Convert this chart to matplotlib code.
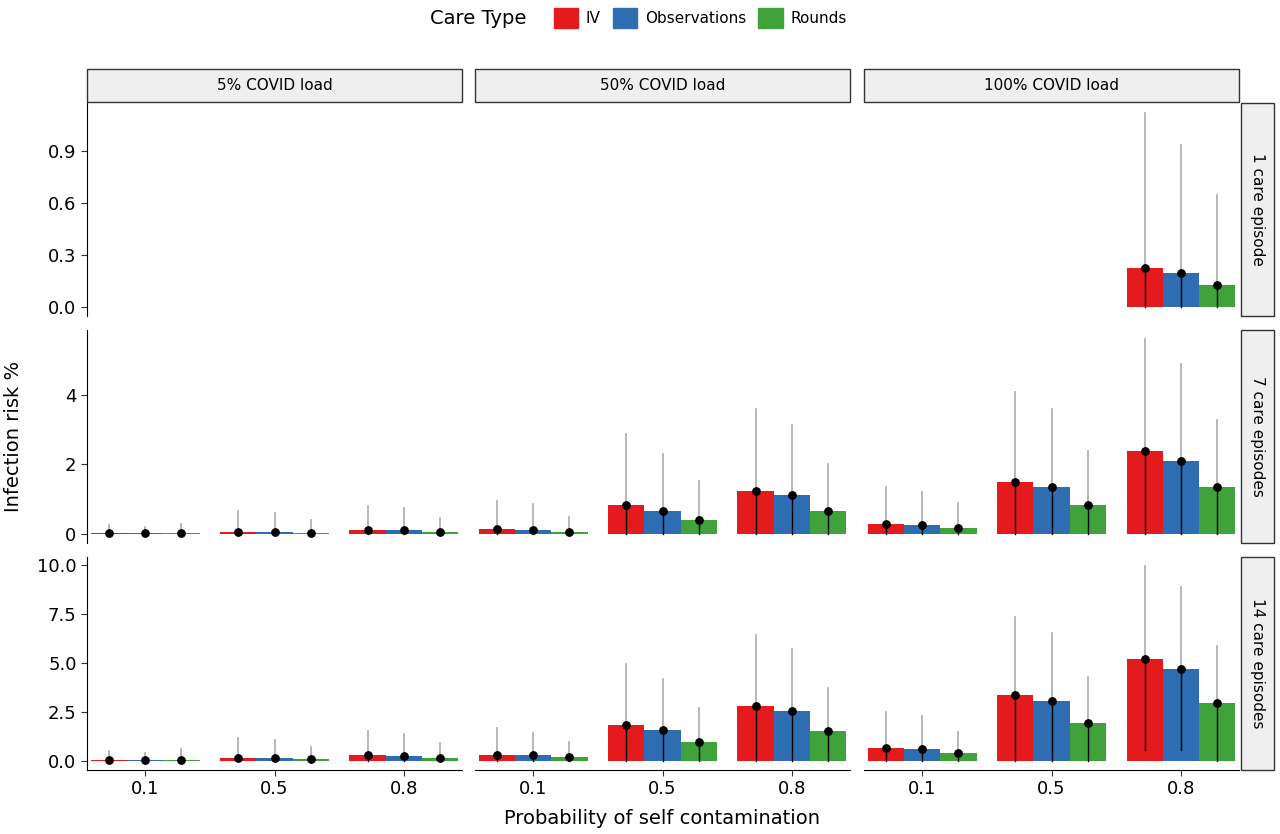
import matplotlib
matplotlib.use('Agg')
import numpy as np
import matplotlib.pyplot as plt
from matplotlib.patches import Patch, Rectangle

loads = ['5% COVID load', '50% COVID load', '100% COVID load']
episodes = ['1 care episode', '7 care episodes', '14 care episodes']
probs = ['0.1', '0.5', '0.8']
care_types = ['IV', 'Observations', 'Rounds']
colors = ['#E41A1C', '#2F6DB3', '#3FA23A']
nan = np.nan

# mean[episode][load][prob] -> (IV, Obs, Rounds)
mean = [
    [[[nan] * 3] * 3, [[nan] * 3] * 3,
     [[nan] * 3, [nan] * 3, [0.23, 0.20, 0.13]]],
    [[[0.02, 0.02, 0.02], [0.07, 0.06, 0.04], [0.12, 0.11, 0.06]],
     [[0.13, 0.12, 0.07], [0.82, 0.66, 0.41], [1.25, 1.12, 0.65]],
     [[0.28, 0.25, 0.17], [1.50, 1.35, 0.82], [2.38, 2.10, 1.35]]],
    [[[0.04, 0.04, 0.03], [0.15, 0.14, 0.10], [0.28, 0.25, 0.17]],
     [[0.30, 0.28, 0.18], [1.85, 1.58, 0.98], [2.80, 2.55, 1.55]],
     [[0.68, 0.62, 0.40], [3.38, 3.05, 1.92], [5.20, 4.70, 2.95]]],
]
upper = [
    [[[nan] * 3] * 3, [[nan] * 3] * 3,
     [[nan] * 3, [nan] * 3, [1.12, 0.94, 0.65]]],
    [[[0.25, 0.20, 0.30], [0.65, 0.60, 0.40], [0.80, 0.75, 0.45]],
     [[0.95, 0.85, 0.50], [2.88, 2.30, 1.52], [3.60, 3.15, 2.00]],
     [[1.35, 1.22, 0.88], [4.10, 3.60, 2.38], [5.60, 4.90, 3.28]]],
    [[[0.50, 0.40, 0.60], [1.15, 1.05, 0.70], [1.55, 1.40, 0.90]],
     [[1.70, 1.45, 0.95], [4.95, 4.20, 2.70], [6.40, 5.70, 3.70]],
     [[2.50, 2.30, 1.50], [7.35, 6.55, 4.30], [9.95, 8.85, 5.85]]],
]
lower_14_100_08 = [0.55, 0.55, 0.0]

ylims = [(-0.05, 1.18), (-0.26, 5.87), (-0.46, 10.4)]
yticks = [[0.0, 0.3, 0.6, 0.9], [0, 2, 4], [0.0, 2.5, 5.0, 7.5, 10.0]]
ytlabels = [['0.0', '0.3', '0.6', '0.9'], ['0', '2', '4'],
            ['0.0', '2.5', '5.0', '7.5', '10.0']]

W, H = 1280, 834
fig = plt.figure(figsize=(12.8, 8.34), dpi=100)
colx = [87, 475, 864]
pw = 375
rowy = [103, 330, 557]
ph = 213
bw = 0.28

for r in range(3):
    for c in range(3):
        ax = fig.add_axes([colx[c] / W, 1 - (rowy[r] + ph) / H, pw / W, ph / H])
        for p in range(3):
            for k in range(3):
                m = mean[r][c][p][k]
                if np.isnan(m):
                    continue
                x = p + 1 + (k - 1) * bw
                ax.bar(x, m, width=bw, color=colors[k], zorder=1)
                lo = lower_14_100_08[k] if (r == 2 and c == 2 and p == 2) else 0
                ax.plot([x, x], [m, upper[r][c][p][k]], color='#aaaaaa', lw=1.2, zorder=2)
                ax.plot([x, x], [lo, m], color='black', lw=1.0, zorder=2)
                ax.scatter([x], [m], color='black', s=28, zorder=3)
        ax.set_xlim(0.55, 3.45)
        ax.set_ylim(*ylims[r])
        for s in ['top', 'right']:
            ax.spines[s].set_visible(False)
        ax.spines['left'].set_visible(c == 0)
        ax.spines['bottom'].set_visible(r == 2)
        if c == 0:
            ax.set_yticks(yticks[r])
            ax.set_yticklabels(ytlabels[r], fontsize=13)
        else:
            ax.set_yticks([])
        if r == 2:
            ax.set_xticks([1, 2, 3])
            ax.set_xticklabels(probs, fontsize=13)
        else:
            ax.set_xticks([])
        ax.tick_params(color='#333333', length=4)

for c in range(3):
    fig.patches.append(Rectangle((colx[c] / W, 1 - 102 / H), pw / W, 33 / H,
                                 transform=fig.transFigure, facecolor='#efefef',
                                 edgecolor='#333333', lw=1))
    fig.text((colx[c] + pw / 2) / W, 1 - 86 / H, loads[c], ha='center', va='center', fontsize=11)
for r in range(3):
    fig.patches.append(Rectangle((1241 / W, 1 - (rowy[r] + ph) / H), 33 / W, ph / H,
                                 transform=fig.transFigure, facecolor='#efefef',
                                 edgecolor='#333333', lw=1))
    fig.text(1258 / W, 1 - (rowy[r] + ph / 2) / H, episodes[r], ha='center', va='center',
             fontsize=11, rotation=270)

fig.text(662 / W, 1 - 818 / H, 'Probability of self contamination', ha='center', va='center', fontsize=14)
fig.text(14 / W, 1 - 436 / H, 'Infection risk %', ha='center', va='center', fontsize=14, rotation=90)

fig.text(430 / W, 1 - 18 / H, 'Care Type', ha='left', va='center', fontsize=14)
handles = [Patch(color=col, label=l) for col, l in zip(colors, care_types)]
fig.legend(handles=handles, loc='center left', bbox_to_anchor=(540 / W, 1 - 18 / H),
           ncol=3, frameon=False, fontsize=11, handlelength=1.6, handleheight=1.6,
           columnspacing=0.8, handletextpad=0.5)

fig.savefig('out.png', dpi=100)
